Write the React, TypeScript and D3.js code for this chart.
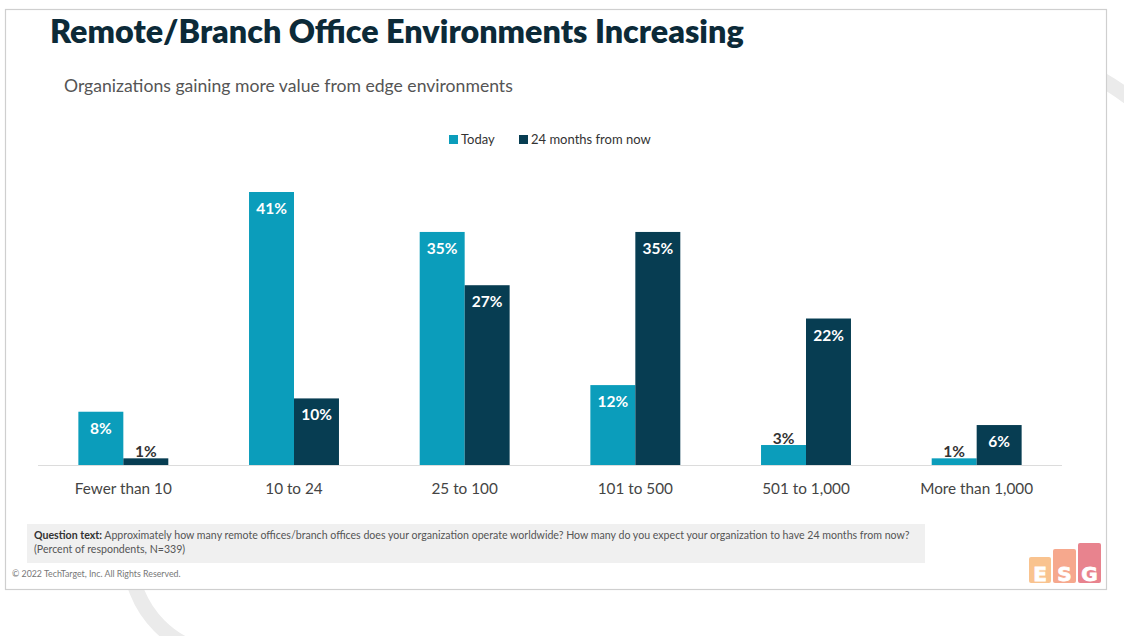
import React from "react";
import * as d3 from "d3";

const categories = ["Fewer than 10", "10 to 24", "25 to 100", "101 to 500", "501 to 1,000", "More than 1,000"];
const seriesNames = ["Today", "24 months from now"];
const todayValues = [8, 41, 35, 12, 3, 1];
const futureValues = [1, 10, 27, 35, 22, 6];
const colors = ["#0b9dbb", "#073d52"];

const W = 1124;
const H = 636;
const FONT = "Lato, 'Open Sans', sans-serif";

const App: React.FC = () => {
  const x0 = d3.scaleBand<string>()
    .domain(categories)
    .range([38, 1062])
    .paddingInner(0.473)
    .paddingOuter(0.2365);
  const x1 = d3.scaleBand<string>()
    .domain(seriesNames)
    .range([0, x0.bandwidth()]);
  const y = d3.scaleLinear().domain([0, 41]).range([465, 192]);

  const bars = categories.flatMap((c, i) =>
    [todayValues[i], futureValues[i]].map((v, s) => ({ c, v, s }))
  );

  return (
    <svg width={W} height={H} style={{ position: "absolute", left: 0, top: 0, fontFamily: FONT }}>
      <defs>
        <clipPath id="clipRight"><rect x={1107} y={40} width={40} height={160} /></clipPath>
        <clipPath id="clipBottom"><rect x={80} y={590} width={115} height={60} /></clipPath>
      </defs>
      <rect width={W} height={H} fill="#fff" />
      {/* decorative arcs peeking out from behind the card */}
      <circle cx={978} cy={297} r={250} fill="none" stroke="#ebebeb" strokeWidth={15} clipPath="url(#clipRight)" />
      <circle cx={230} cy={555} r={100} fill="none" stroke="#ebebeb" strokeWidth={15} clipPath="url(#clipBottom)" />
      <rect x={5.5} y={9.5} width={1101} height={580} fill="#fff" stroke="#cfcfcf" strokeWidth={1.2} />

      <text x={50} y={43} fontSize={32.3} fontWeight={800} fill="#0c2a38">
        Remote/Branch Office Environments Increasing
      </text>
      <text x={64} y={92} fontSize={17.6} fill="#555">
        Organizations gaining more value from edge environments
      </text>

      {/* legend */}
      {seriesNames.map((name, i) => {
        const lx = i === 0 ? 449 : 519;
        return (
          <g key={name}>
            <rect x={lx} y={135} width={9} height={9} fill={colors[i]} />
            <text x={lx + 12} y={144} fontSize={13} fill="#333">{name}</text>
          </g>
        );
      })}

      {/* bars */}
      {bars.map((b) => {
        const bx = (x0(b.c) ?? 0) + (x1(seriesNames[b.s]) ?? 0);
        const top = y(b.v);
        const inside = b.v >= 6;
        return (
          <g key={b.c + b.s}>
            <rect x={bx} y={top} width={x1.bandwidth()} height={y(0) - top} fill={colors[b.s]} />
            <text
              x={bx + x1.bandwidth() / 2}
              y={inside ? top + 22 : top - 1.5}
              textAnchor="middle"
              fontSize={15.5}
              fontWeight={700}
              fill={inside ? "#fff" : "#333"}
            >
              {b.v}%
            </text>
          </g>
        );
      })}

      <line x1={38} x2={1062} y1={465.5} y2={465.5} stroke="#dcdcdc" strokeWidth={1} />
      {categories.map((c) => (
        <text key={c} x={(x0(c) ?? 0) + x0.bandwidth() / 2} y={494} textAnchor="middle" fontSize={15.3} fill="#444">
          {c}
        </text>
      ))}

      {/* question text box */}
      <rect x={27} y={524} width={898} height={39} fill="#f0f0f0" />
      <text x={34} y={539} fontSize={10.6} fill="#555">
        <tspan fontWeight={700} fill="#333">Question text:</tspan> Approximately how many remote offices/branch offices does your organization operate worldwide? How many do you expect your organization to have 24 months from now?
      </text>
      <text x={34} y={553} fontSize={10.6} fill="#555">(Percent of respondents, N=339)</text>

      <text x={12} y={577} fontSize={8.8} fill="#777">© 2022 TechTarget, Inc. All Rights Reserved.</text>

      {/* ESG logo */}
      <rect x={1029} y={557} width={22} height={26} rx={2} fill="#f9c38f" />
      <rect x={1053} y={549} width={23} height={34} rx={2} fill="#f6a88d" />
      <rect x={1078} y={543} width={23} height={40} rx={2} fill="#e8838e" />
      <g fontFamily="'DejaVu Sans', sans-serif" fontSize={20} fontWeight={700} fill="#fff" stroke="#fff" strokeWidth={0.8} textAnchor="middle">
        <text x={1040} y={581}>E</text>
        <text x={1064.5} y={581}>S</text>
        <text x={1089.5} y={581}>G</text>
      </g>
    </svg>
  );
};

export default App;
